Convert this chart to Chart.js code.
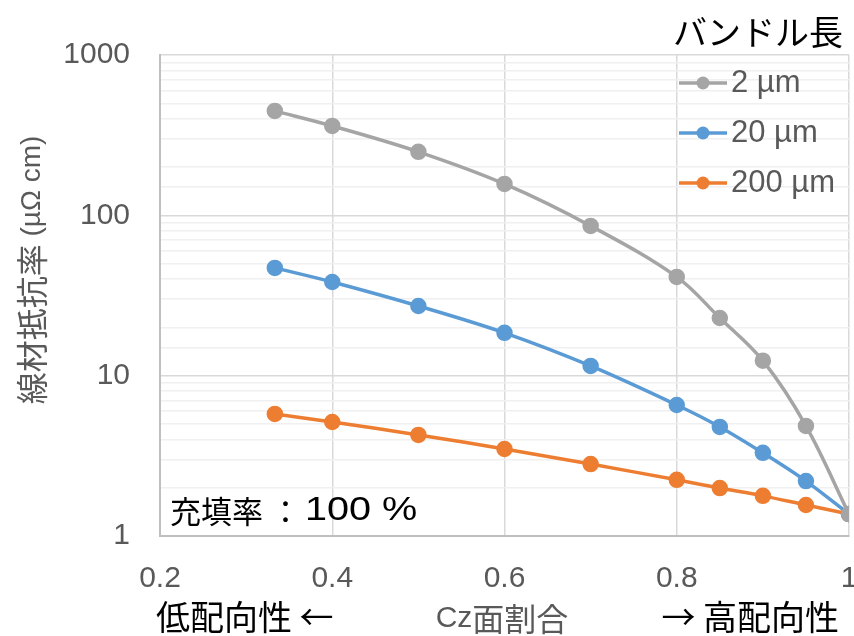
<!DOCTYPE html>
<html>
<head>
<meta charset="utf-8">
<script src="https://cdn.jsdelivr.net/npm/chart.js@4/dist/chart.umd.min.js"></script>
<style>
  html, body { margin: 0; padding: 0; background: #ffffff; }
  #wrap { width: 854px; height: 636px; }
</style>
</head>
<body>
<div id="wrap"><canvas id="c" width="854" height="636"></canvas></div>
<script>
// Cz-plane fraction (x) and wire resistivity in µΩ cm for each bundle length
const czFraction = [1/3, 0.4, 0.5, 0.6, 0.7, 0.8, 0.85, 0.9, 0.95, 1.0];
const bundle2um   = [448, 361, 249, 157, 85.9, 41.3, 22.9, 12.4, 4.86, 1.37];
const bundle20um  = [47.0, 38.4, 27.2, 18.5, 11.5, 6.56, 4.79, 3.30, 2.20, 1.37];
const bundle200um = [5.77, 5.14, 4.27, 3.49, 2.81, 2.24, 1.99, 1.78, 1.56, 1.37];
const seriesLabels = ['2 µm', '20 µm', '200 µm'];
const yTickValues = [1, 10, 100, 1000];
const xTickValues = [0.2, 0.4, 0.6, 0.8, 1.0];

const legendTitle = 'バンドル長';
const LATIN = "'Liberation Sans', Arial, 'Noto Sans CJK JP', sans-serif";
const CJK = "'Noto Sans CJK JP', 'Liberation Sans', sans-serif";
const GREY_TEXT = '#595959';

// Text made of runs that use different fonts (Japanese vs. Latin glyphs)
const yTitleRuns = [
  { text: '線材抵抗率', font: '32px ' + CJK },
  { text: ' (µΩ cm)', font: '28px ' + LATIN }
];
const noteRuns = [
  { text: '充填率 ：', font: '31px ' + CJK },
  { text: '100 %', font: '33px ' + LATIN, sx: 1.2, gap: 4 }
];
const xTitleLeftRuns = [
  { text: '低配向性 ←', font: '34px ' + CJK }
];
const xTitleMidRuns = [
  { text: 'Cz', font: '30px ' + LATIN },
  { text: '面割合', font: '32px ' + CJK }
];
const xTitleRightRuns = [
  { text: '→ 高配向性', font: '34px ' + CJK }
];

function toPoints(ys) {
  return czFraction.map((x, i) => ({ x: x, y: ys[i] }));
}

function series(label, ys, color) {
  return {
    label: label,
    data: toPoints(ys),
    borderColor: color,
    backgroundColor: color,
    pointBackgroundColor: color,
    pointBorderColor: color,
    borderWidth: 3.5,
    pointRadius: 6.5,
    pointHoverRadius: 6.5,
    tension: 0.35,
    fill: false
  };
}

function drawRuns(ctx, runs, x, y, align, color) {
  let total = 0;
  runs.forEach(r => {
    ctx.font = r.font;
    r.w = ctx.measureText(r.text).width * (r.sx || 1) + (r.gap || 0);
    total += r.w;
  });
  let start = x;
  if (align === 'center') start = x - total / 2;
  if (align === 'right') start = x - total;
  ctx.fillStyle = color;
  ctx.textAlign = 'left';
  ctx.textBaseline = 'middle';
  runs.forEach(r => {
    ctx.font = r.font;
    const sx = r.sx || 1;
    const left = start + (r.gap || 0);
    ctx.save();
    ctx.translate(left, y);
    ctx.scale(sx, 1);
    ctx.fillText(r.text, 0, 0);
    ctx.restore();
    start += r.w;
  });
}

// Legend, axis titles and the note are painted on top of the chart
const annotations = {
  id: 'annotations',
  afterDraw(chart) {
    const ctx = chart.ctx;
    ctx.save();

    // legend title
    drawRuns(ctx, [{ text: legendTitle, font: '34px ' + CJK }], 843, 32, 'right', '#000000');

    // legend entries
    const rows = [83, 133, 183];
    chart.data.datasets.forEach((ds, i) => {
      const y = rows[i];
      ctx.strokeStyle = ds.borderColor;
      ctx.lineWidth = 3.5;
      ctx.beginPath();
      ctx.moveTo(679, y);
      ctx.lineTo(727, y);
      ctx.stroke();
      ctx.fillStyle = ds.borderColor;
      ctx.beginPath();
      ctx.arc(703, y, 6.5, 0, Math.PI * 2);
      ctx.fill();
      drawRuns(ctx, [{ text: ds.label, font: '31px ' + LATIN }], 731, y, 'left', GREY_TEXT);
    });

    // filling ratio note
    drawRuns(ctx, noteRuns, 170, 511, 'left', '#000000');

    // x axis titles
    drawRuns(ctx, xTitleLeftRuns, 156, 617, 'left', '#000000');
    drawRuns(ctx, xTitleRightRuns, 839, 617, 'right', '#000000');
    drawRuns(ctx, xTitleMidRuns, 502, 619, 'center', GREY_TEXT);

    // y axis title
    ctx.translate(32, 270);
    ctx.rotate(-Math.PI / 2);
    drawRuns(ctx, yTitleRuns, 0, 0, 'center', GREY_TEXT);

    ctx.restore();
  }
};

new Chart(document.getElementById('c'), {
  type: 'line',
  data: {
    datasets: [
      series(seriesLabels[0], bundle2um, '#a5a5a5'),
      series(seriesLabels[1], bundle20um, '#5b9bd5'),
      series(seriesLabels[2], bundle200um, '#ed7d31')
    ]
  },
  options: {
    responsive: false,
    animation: false,
    devicePixelRatio: 1,
    layout: { autoPadding: false, padding: { top: 55, right: 5, left: 0, bottom: 0 } },
    plugins: {
      legend: { display: false },
      tooltip: { enabled: false }
    },
    scales: {
      x: {
        type: 'linear',
        min: 0.2,
        max: 1.0,
        afterBuildTicks(scale) {
          scale.ticks = xTickValues.map(v => ({ value: v }));
        },
        afterFit(scale) {
          scale.height = 100;
          scale.paddingLeft = 0;
          scale.paddingRight = 0;
        },
        ticks: {
          color: GREY_TEXT,
          font: { family: LATIN, size: 30 },
          padding: 25,
          maxRotation: 0,
          autoSkip: false,
          callback: v => String(Number(v.toFixed(1)))
        },
        grid: {
          color: '#d9d9d9',
          lineWidth: 1.5,
          drawTicks: false
        },
        border: { color: '#bfbfbf', width: 2 }
      },
      y: {
        type: 'logarithmic',
        min: 1,
        max: 1000,
        afterFit(scale) {
          scale.width = 160;
          scale.paddingTop = 0;
          scale.paddingBottom = 0;
        },
        ticks: {
          color: GREY_TEXT,
          font: { family: LATIN, size: 30 },
          padding: 30,
          autoSkip: false,
          callback: v => (yTickValues.includes(v) ? String(v) : '')
        },
        grid: {
          color: ctx => (yTickValues.includes(ctx.tick && ctx.tick.value) ? '#d9d9d9' : '#f0f0f0'),
          lineWidth: 1.5,
          drawTicks: false
        },
        border: { color: '#bfbfbf', width: 2 }
      }
    }
  },
  plugins: [annotations]
});
</script>
</body>
</html>
